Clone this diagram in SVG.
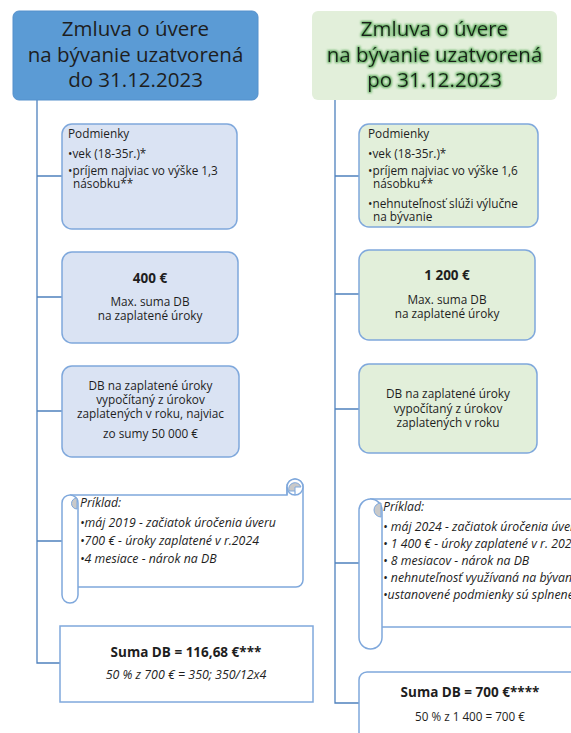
<svg xmlns="http://www.w3.org/2000/svg" width="571" height="733" viewBox="0 0 571 733">
<defs>
<style>
text{font-family:"Open Sans","Liberation Sans",sans-serif;fill:#1e1e1e}
.hd{font-size:20.5px;text-anchor:middle}
.sm{font-size:11.8px}
.si{font-size:12.3px;font-style:italic}
.c{text-anchor:middle}
.b{font-weight:bold;font-size:13.5px}
.nb{fill:#dae3f3;stroke:#7fa8dc;stroke-width:1.5}
.ng{fill:#e2efda;stroke:#7fa8dc;stroke-width:1.5}
.sc{fill:#ffffff;stroke:#7fa8dc;stroke-width:1.5}
.gr{fill:#c9c9c9;stroke:#7fa8dc;stroke-width:1}
.ln{fill:none;stroke:#4f81bd;stroke-width:1.3}
</style>
<filter id="glow" x="-10%" y="-20%" width="120%" height="140%">
<feMorphology in="SourceAlpha" operator="dilate" radius="0.9" result="d"/>
<feGaussianBlur in="d" stdDeviation="0.8" result="b"/>
<feFlood flood-color="#3f9f3f" flood-opacity="0.75"/>
<feComposite in2="b" operator="in" result="g"/>
<feMerge><feMergeNode in="g"/><feMergeNode in="SourceGraphic"/></feMerge>
</filter>
</defs>
<rect width="571" height="733" fill="#ffffff"/>

<g id="connectors">
<path class="ln" d="M37,100 V663 H60"/>
<path class="ln" d="M37,176 H62 M37,297 H62 M37,411 H62 M37,541 H62"/>
<path class="ln" d="M335,100 V703 H359"/>
<path class="ln" d="M335,176 H359 M335,294 H359 M335,409 H359 M335,563 H359"/>
</g>

<g id="header-left">
<rect x="13" y="11" width="245" height="89" rx="6" fill="#5b9bd5" stroke="#5590cc" stroke-width="1"/>
<text class="hd"><tspan x="135.5" y="36">Zmluva o úvere</tspan><tspan x="135.5" y="62">na bývanie uzatvorená</tspan><tspan x="135.5" y="87">do 31.12.2023</tspan></text>
</g>

<g id="header-right">
<rect x="312" y="11" width="245" height="89" rx="6" fill="#e2efda"/>
<text class="hd" filter="url(#glow)"><tspan x="434.5" y="36">Zmluva o úvere</tspan><tspan x="434.5" y="62">na bývanie uzatvorená</tspan><tspan x="434.5" y="87">po 31.12.2023</tspan></text>
</g>

<g id="conditions-left">
<rect class="nb" x="62" y="124" width="175" height="105" rx="10"/>
<text class="sm"><tspan x="68" y="138">Podmienky</tspan><tspan x="68" y="158">•vek (18-35r.)*</tspan><tspan x="68" y="175">•príjem najviac vo výške 1,3</tspan><tspan x="73" y="188">násobku**</tspan></text>
</g>

<g id="conditions-right">
<rect class="ng" x="359" y="124" width="179" height="103" rx="10"/>
<text class="sm"><tspan x="368" y="138">Podmienky</tspan><tspan x="368" y="158">•vek (18-35r.)*</tspan><tspan x="368" y="175">•príjem najviac vo výške 1,6</tspan><tspan x="373" y="188">násobku**</tspan><tspan x="368" y="208">•nehnuteľnosť slúži výlučne</tspan><tspan x="373" y="221">na bývanie</tspan></text>
</g>

<g id="max-left">
<rect class="nb" x="62" y="252" width="176" height="91" rx="10"/>
<text class="c b" x="150" y="283">400 €</text>
<text class="sm c"><tspan x="150" y="306">Max. suma DB</tspan><tspan x="150" y="320">na zaplatené úroky</tspan></text>
</g>

<g id="calc-left">
<rect class="nb" x="62" y="366" width="177" height="91" rx="10"/>
<text class="sm c"><tspan x="150.5" y="390">DB na zaplatené úroky</tspan><tspan x="150.5" y="404">vypočítaný z úrokov</tspan><tspan x="150.5" y="418">zaplatených v roku, najviac</tspan><tspan x="150.5" y="438">zo sumy 50 000 €</tspan></text>
</g>

<g id="max-right">
<rect class="ng" x="359" y="250" width="176" height="90" rx="10"/>
<text class="c b" x="447" y="280">1 200 €</text>
<text class="sm c"><tspan x="447" y="304">Max. suma DB</tspan><tspan x="447" y="318">na zaplatené úroky</tspan></text>
</g>

<g id="calc-right">
<rect class="ng" x="359" y="364" width="178" height="89" rx="10"/>
<text class="sm c"><tspan x="448" y="398">DB na zaplatené úroky</tspan><tspan x="448" y="413">vypočítaný z úrokov</tspan><tspan x="448" y="427">zaplatených v roku</tspan></text>
</g>

<g id="example-left">
<path class="sc" d="M70,495 H287 V487 A8,8 0 0 1 303,487 V580 A7,7 0 0 1 296,587 H78"/>
<rect class="sc" x="62" y="495" width="16" height="108" rx="8"/>
<path class="gr" d="M77,498 A5.5,5.5 0 0 0 77,509 Z"/>
<circle class="sc" cx="295" cy="487" r="8"/>
<path class="gr" d="M289,491 A6,6 0 1 1 301,487 H295 V491 Z"/>
<path d="M287,487 V495 M295,491 V495" fill="none" stroke="#7fa8dc" stroke-width="1.2"/>
<text class="si"><tspan x="80" y="507">Príklad:</tspan><tspan x="80" y="527">•máj 2019 - začiatok úročenia úveru</tspan><tspan x="80" y="545">•700 € - úroky zaplatené v r.2024</tspan><tspan x="80" y="563">•4 mesiace - nárok na DB</tspan></text>
</g>

<g id="example-right">
<path class="sc" d="M370,499 H580 V627 H382"/>
<rect class="sc" x="359" y="499" width="23" height="150" rx="11.5"/>
<path class="gr" d="M381,503 A7,7 0 0 0 381,517 Z"/>
<text class="si"><tspan x="383" y="511">Príklad:</tspan><tspan x="383" y="531">• máj 2024 - začiatok úročenia úveru</tspan><tspan x="383" y="548">• 1 400 € - úroky zaplatené v r. 2024</tspan><tspan x="383" y="565">• 8 mesiacov - nárok na DB</tspan><tspan x="383" y="582">• nehnuteľnosť využívaná na bývanie</tspan><tspan x="383" y="599">•ustanovené podmienky sú splnené</tspan></text>
</g>

<g id="sum-left">
<rect x="60" y="626" width="253" height="76" fill="#ffffff" stroke="#7fa8dc" stroke-width="1.5"/>
<text class="c b" x="186" y="657">Suma DB = 116,68 €***</text>
<text class="c" x="186" y="679" style="font-size:12.4px;font-style:italic">50 % z 700 € = 350; 350/12x4</text>
</g>

<g id="sum-right">
<path d="M359,740 V680 A8,8 0 0 1 367,672 H580" fill="#ffffff" stroke="#7fa8dc" stroke-width="1.5"/>
<text class="c b" x="470" y="697">Suma DB = 700 €****</text>
<text class="c" x="470" y="721" style="font-size:11.7px">50 % z 1 400 = 700 €</text>
</g>
</svg>
